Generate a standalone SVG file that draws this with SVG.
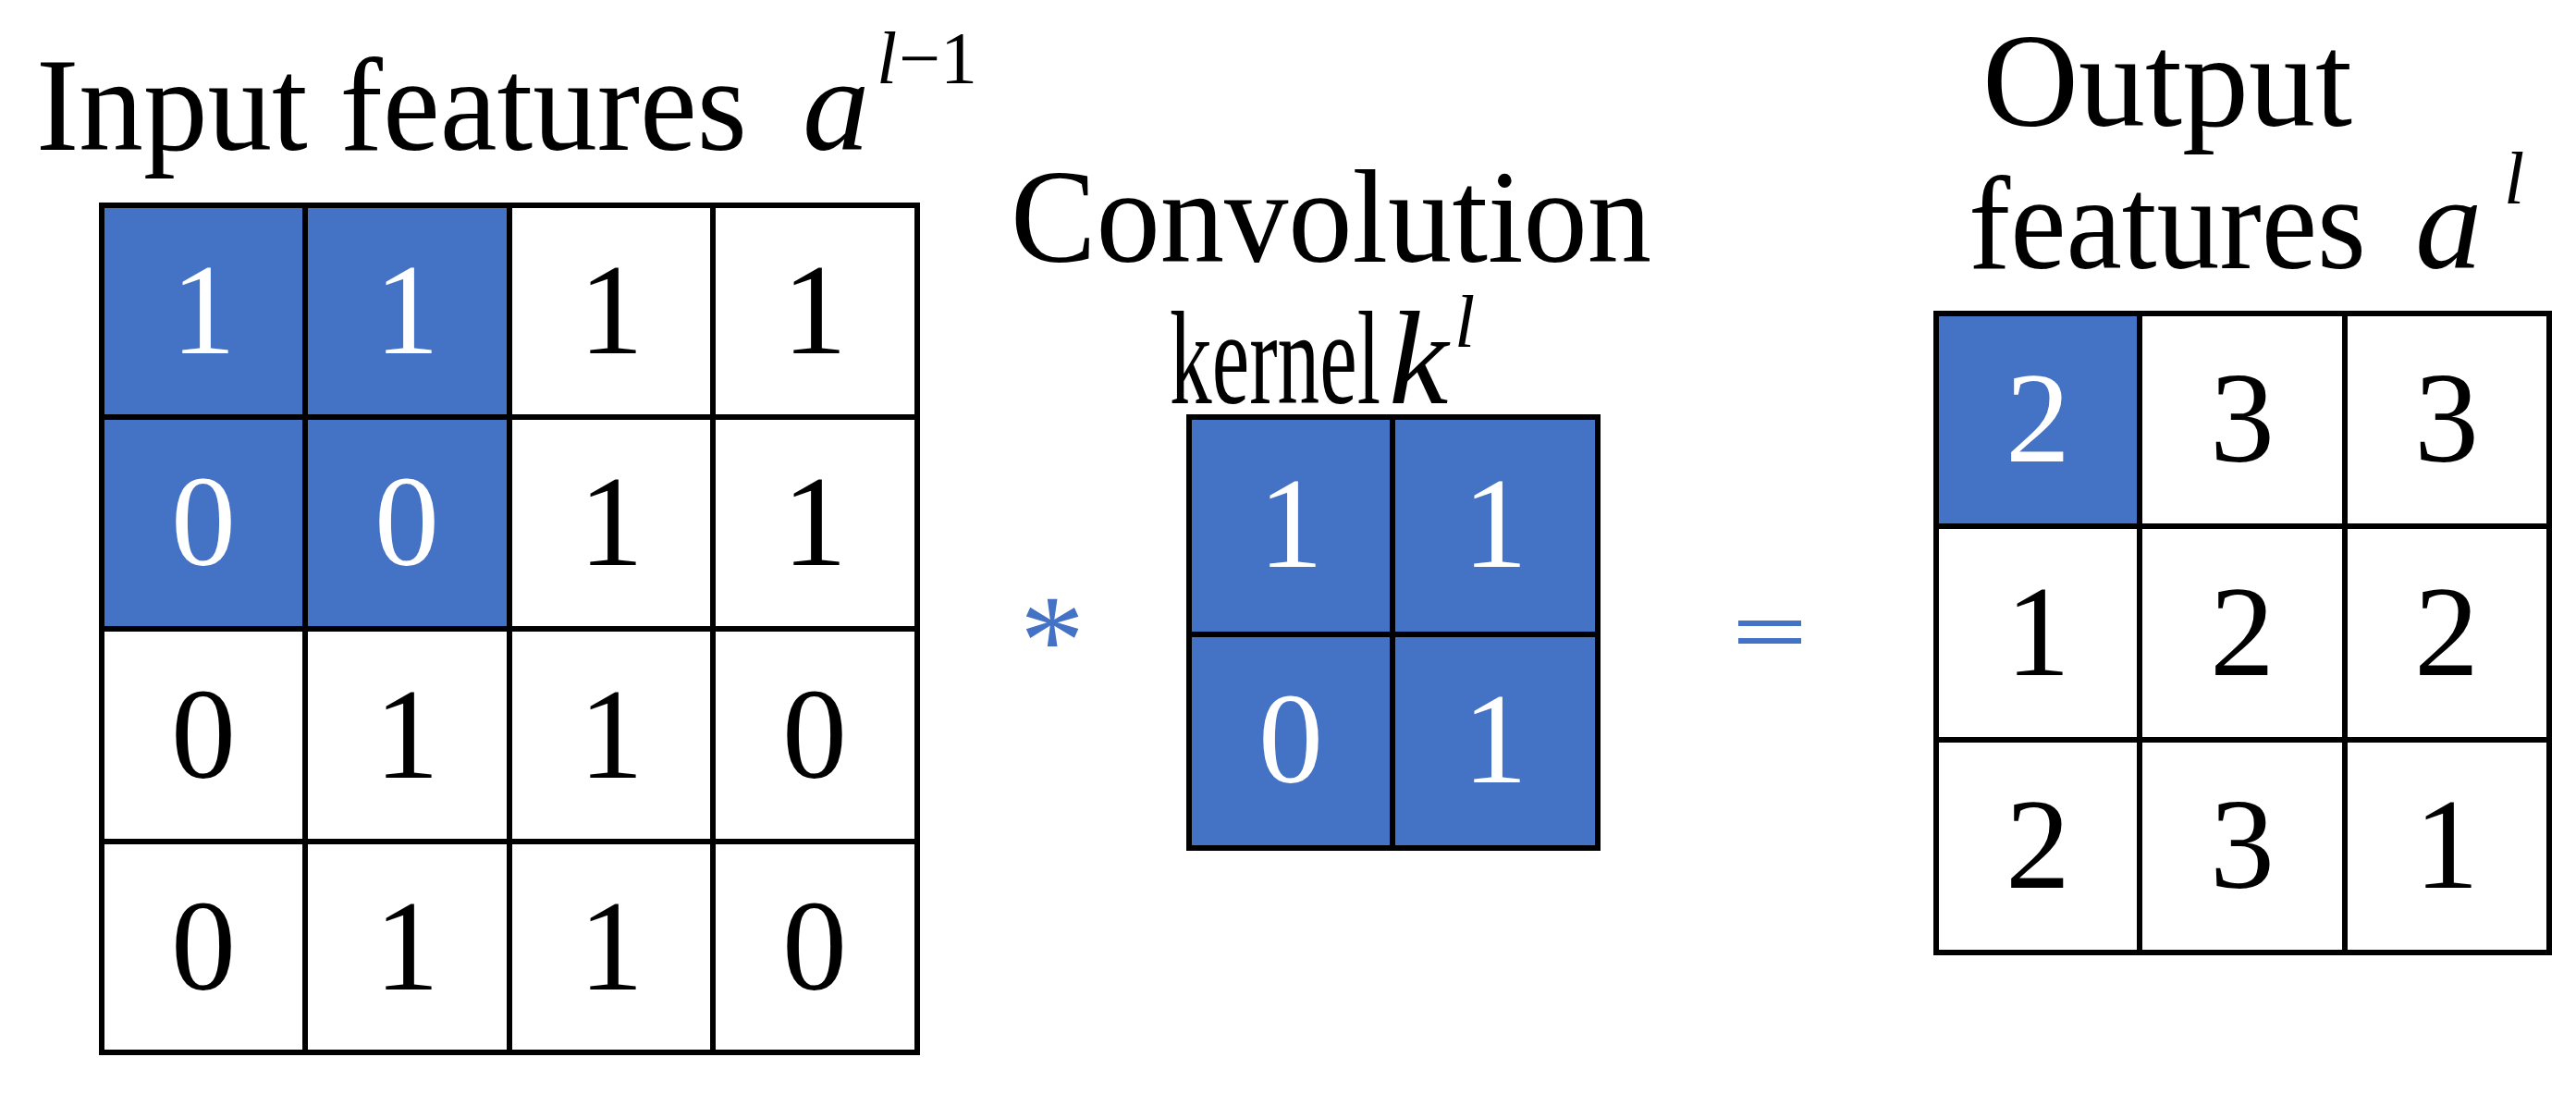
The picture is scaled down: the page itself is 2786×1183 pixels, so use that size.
<svg xmlns="http://www.w3.org/2000/svg" width="2786" height="1183" viewBox="0 0 2786 1183">
<style>
text{font-family:"Liberation Serif","DejaVu Serif",serif;fill:#000}
.t{font-size:145px}
.s{font-size:80px;font-style:italic}
.n{font-size:140px;text-anchor:middle}
.w{fill:#fff}
.i{font-style:italic}
.b{fill:#4472C4}
.g{stroke:#000;stroke-width:6;fill:none}
</style>
<rect width="2786" height="1183" fill="#fff"/>
<g id="input">
<text class="t" x="39" y="162" textLength="769" lengthAdjust="spacingAndGlyphs">Input features</text>
<text class="t i" x="868" y="162">a</text>
<text class="s" x="948" y="90">l</text>
<text x="972" y="90" font-size="80">−1</text>
<rect x="110" y="222" width="441" height="458" fill="#4472C4"/>
<path class="g" d="M110 222H992V1138H110Z M330 222V1138 M551 222V1138 M771 222V1138 M110 451H992 M110 680H992 M110 910H992"/>
<text class="n w" x="220" y="382">1</text><text class="n w" x="440" y="382">1</text><text class="n" x="661" y="382">1</text><text class="n" x="881" y="382">1</text>
<text class="n w" x="220" y="611">0</text><text class="n w" x="440" y="611">0</text><text class="n" x="661" y="611">1</text><text class="n" x="881" y="611">1</text>
<text class="n" x="220" y="841">0</text><text class="n" x="440" y="841">1</text><text class="n" x="661" y="841">1</text><text class="n" x="881" y="841">0</text>
<text class="n" x="220" y="1070">0</text><text class="n" x="440" y="1070">1</text><text class="n" x="661" y="1070">1</text><text class="n" x="881" y="1070">0</text>
</g>
<g id="op-star"><text class="n b" x="1138" y="739" font-size="120">*</text></g>
<g id="kernel">
<text class="t" x="1093" y="283" textLength="693" lengthAdjust="spacingAndGlyphs">Convolution</text>
<text class="t" x="1265" y="436" textLength="228" lengthAdjust="spacingAndGlyphs">kernel</text>
<text class="t i" x="1502" y="436">k</text>
<text class="s" x="1573" y="375">l</text>
<rect x="1286" y="451" width="442" height="466" fill="#4472C4"/>
<path class="g" d="M1286 451H1728V917H1286Z M1506 451V917 M1286 686H1728"/>
<text class="n w" x="1396" y="613">1</text><text class="n w" x="1617" y="613">1</text>
<text class="n w" x="1396" y="846">0</text><text class="n w" x="1617" y="846">1</text>
</g>
<g id="op-eq"><rect x="1880" y="671" width="68" height="6" class="b"/><rect x="1880" y="690" width="68" height="6" class="b"/></g>
<g id="output">
<text class="t" x="2144" y="136" textLength="400" lengthAdjust="spacingAndGlyphs">Output</text>
<text class="t" x="2129" y="290" textLength="430" lengthAdjust="spacingAndGlyphs">features</text>
<text class="t i" x="2612" y="290">a</text>
<text class="s" x="2708" y="220">l</text>
<rect x="2094" y="339" width="220" height="230" fill="#4472C4"/>
<path class="g" d="M2094 339H2757V1030H2094Z M2314 339V1030 M2536 339V1030 M2094 569H2757 M2094 800H2757"/>
<text class="n w" x="2204" y="499">2</text><text class="n" x="2425" y="499">3</text><text class="n" x="2646" y="499">3</text>
<text class="n" x="2204" y="730">1</text><text class="n" x="2425" y="730">2</text><text class="n" x="2646" y="730">2</text>
<text class="n" x="2204" y="960">2</text><text class="n" x="2425" y="960">3</text><text class="n" x="2646" y="960">1</text>
</g>
<g id="connectors"></g>
</svg>
